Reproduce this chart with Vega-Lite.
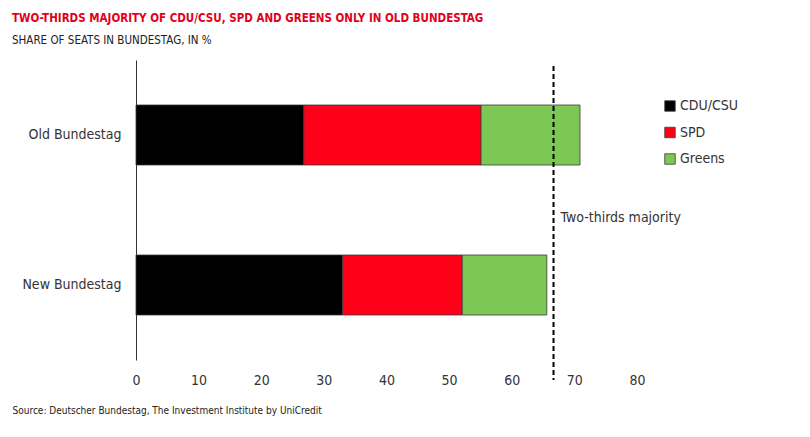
{
  "$schema": "https://vega.github.io/schema/vega-lite/v6.json",
  "autosize": {"type": "none"},
  "padding": {"left": 136, "top": 60, "right": 173, "bottom": 77},
  "width": 501,
  "height": 300,
  "background": "white",
  "title": {
    "text": "TWO-THIRDS MAJORITY OF CDU/CSU, SPD AND GREENS ONLY IN OLD BUNDESTAG",
    "subtitle": "SHARE OF SEATS IN BUNDESTAG, IN %",
    "anchor": "start",
    "frame": "group",
    "dx": -124,
    "offset": 14,
    "color": "#E2001A",
    "fontSize": 11.5,
    "fontWeight": "bold",
    "subtitleColor": "#222222",
    "subtitleFontSize": 11.5,
    "subtitlePadding": 10
  },
  "datasets": {
    "seats": [
      {"parliament": "Old Bundestag", "party": "CDU/CSU", "rank": 1, "share": 26.8},
      {"parliament": "Old Bundestag", "party": "SPD", "rank": 2, "share": 28.3},
      {"parliament": "Old Bundestag", "party": "Greens", "rank": 3, "share": 15.8},
      {"parliament": "New Bundestag", "party": "CDU/CSU", "rank": 1, "share": 33.0},
      {"parliament": "New Bundestag", "party": "SPD", "rank": 2, "share": 19.1},
      {"parliament": "New Bundestag", "party": "Greens", "rank": 3, "share": 13.5}
    ],
    "threshold": [
      {"label": "Two-thirds majority", "value": 66.67, "parliament": "New Bundestag"}
    ]
  },
  "layer": [
    {
      "data": {"name": "seats"},
      "mark": {"type": "bar", "stroke": "#3a3a3a", "strokeWidth": 0.8},
      "encoding": {
        "y": {
          "field": "parliament",
          "type": "nominal",
          "sort": ["Old Bundestag", "New Bundestag"],
          "title": null,
          "scale": {"paddingInner": 0.6, "paddingOuter": 0.3},
          "axis": {
            "domainColor": "#333333",
            "domainWidth": 1,
            "ticks": false,
            "labelFontSize": 14,
            "labelColor": "#333333",
            "labelPadding": 15
          }
        },
        "x": {
          "field": "share",
          "type": "quantitative",
          "stack": "zero",
          "scale": {"domain": [0, 80]},
          "axis": {
            "values": [0, 10, 20, 30, 40, 50, 60, 70, 80],
            "domain": false,
            "ticks": false,
            "grid": false,
            "labelFlush": false,
            "labelFontSize": 14,
            "labelColor": "#333333",
            "labelPadding": 13,
            "title": "Source: Deutscher Bundestag, The Investment Institute by UniCredit",
            "titleFontSize": 10,
            "titleFontWeight": "normal",
            "titleColor": "#222222",
            "titleAnchor": "start",
            "titleAlign": "left",
            "titleX": -124,
            "titleY": 45
          }
        },
        "color": {
          "field": "party",
          "type": "nominal",
          "scale": {
            "domain": ["CDU/CSU", "SPD", "Greens"],
            "range": ["#000000", "#FF0019", "#7DC855"]
          },
          "legend": {
            "title": null,
            "orient": "none",
            "legendX": 527,
            "legendY": 39,
            "symbolType": "square",
            "symbolSize": 110,
            "symbolStrokeColor": "#3a3a3a",
            "symbolStrokeWidth": 0.8,
            "labelFontSize": 14,
            "labelColor": "#333333",
            "rowPadding": 12.5,
            "labelOffset": 3
          }
        },
        "order": {"field": "rank", "type": "quantitative"}
      }
    },
    {
      "data": {"name": "threshold"},
      "mark": {"type": "rule", "color": "#000000", "strokeWidth": 2, "strokeDash": [5, 3]},
      "encoding": {
        "x": {"field": "value", "type": "quantitative"},
        "y": {"value": 6},
        "y2": {"value": {"expr": "height + 20"}}
      }
    },
    {
      "data": {"name": "threshold"},
      "mark": {"type": "text", "align": "left", "baseline": "middle", "dx": 7, "dy": -67, "fontSize": 14, "color": "#333333"},
      "encoding": {
        "x": {"field": "value", "type": "quantitative"},
        "y": {"field": "parliament", "type": "nominal", "sort": ["Old Bundestag", "New Bundestag"]},
        "text": {"field": "label"}
      }
    }
  ],
  "config": {
    "font": "DejaVu Sans Condensed, sans-serif",
    "view": {"stroke": null}
  }
}
